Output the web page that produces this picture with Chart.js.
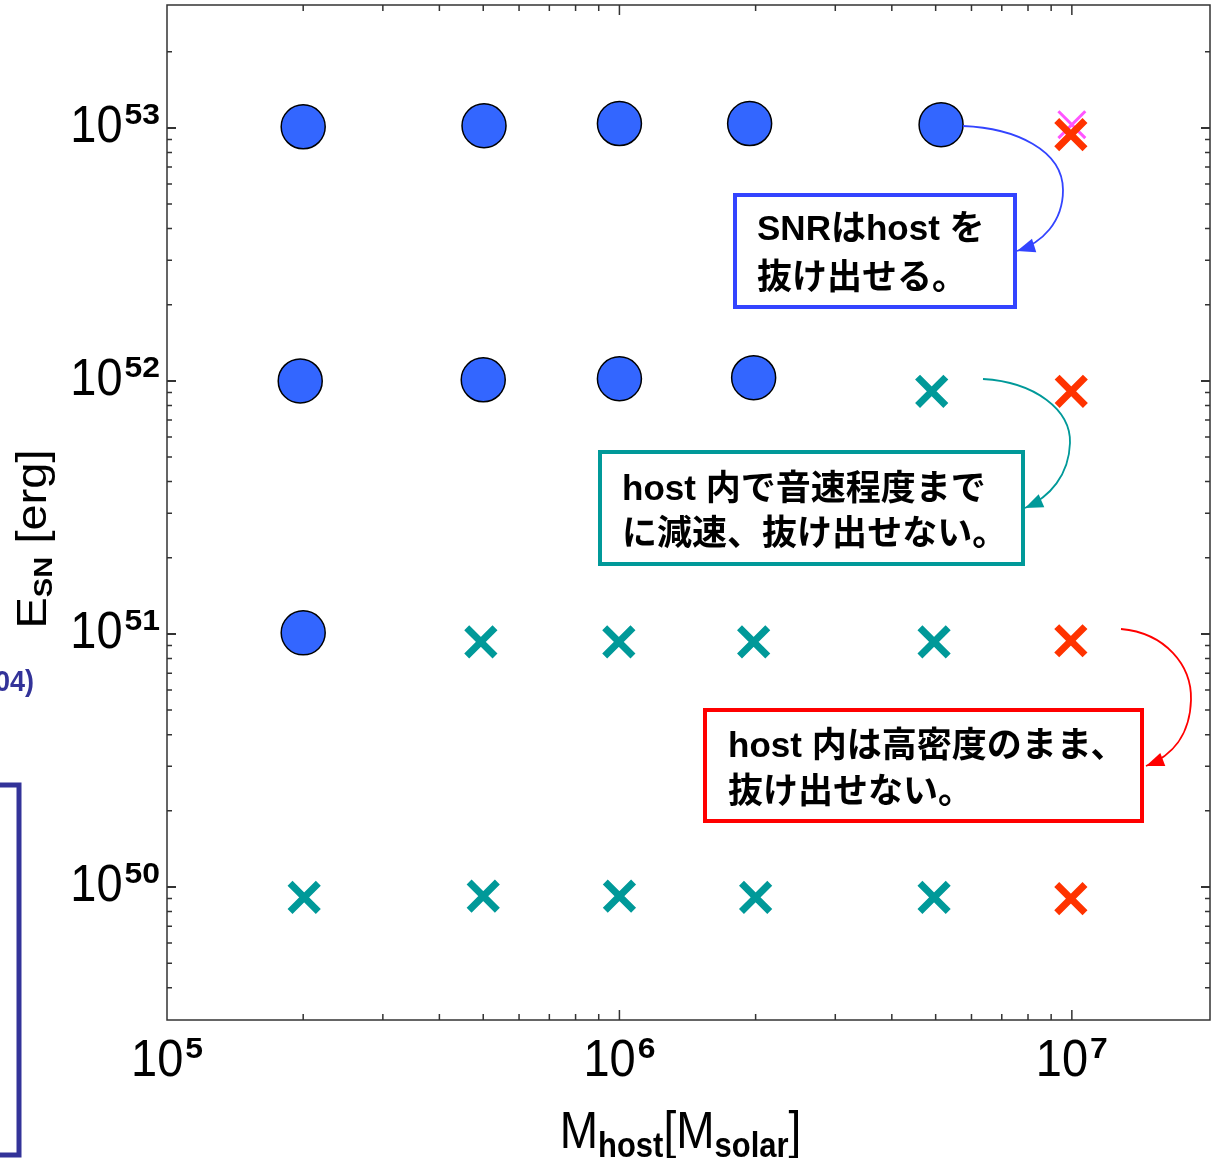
<!DOCTYPE html>
<html>
<head>
<meta charset="utf-8">
<script src="https://cdn.jsdelivr.net/npm/chart.js@4.4.1/dist/chart.umd.min.js"></script>
<style>
  html, body { margin: 0; padding: 0; background: #fff; }
  canvas { display: block; }
</style>
</head>
<body>
<canvas id="chart" width="1215" height="1158"></canvas>
<script>
// SNR escapes the host (blue circles)
const escMass   = [2e5, 5.02e5, 1e6, 1.94e6, 5.14e6, 1.97e5, 5e5, 1e6, 1.98e6, 2e5];
const escEnergy = [1.01e53, 1.02e53, 1.04e53, 1.04e53, 1.03e53, 1e52, 1.01e52, 1.02e52, 1.03e52, 1.01e51];
// slowed to sound speed, cannot escape (teal crosses)
const slowMass   = [4.9e6, 4.94e5, 9.97e5, 1.98e6, 4.96e6, 2.01e5, 5e5, 1e6, 2e6, 4.96e6];
const slowEnergy = [0.91e52, 0.93e51, 0.93e51, 0.93e51, 0.93e51, 0.91e50, 0.92e50, 0.92e50, 0.91e50, 0.91e50];
// stays dense, cannot escape (red crosses)
const denseMass   = [9.95e6, 9.97e6, 9.95e6, 9.95e6];
const denseEnergy = [0.94e53, 0.91e52, 0.94e51, 0.9e50];
// faint magenta marker behind the top red cross
const extraMass   = [1.0e7];
const extraEnergy = [1.03e53];

const xPowers = [5, 6, 7];
const yPowers = [50, 51, 52, 53];

const LATIN = '"Liberation Sans", Arial, sans-serif';
const JP = '"Liberation Sans", "Noto Sans CJK JP", sans-serif';

function pts(xs, ys) {
  return xs.map((v, i) => ({ x: v, y: ys[i] }));
}

function txt(ctx, s, x, y, font, align, sx, sy, color) {
  ctx.save();
  ctx.translate(x, y);
  ctx.scale(sx, sy);
  ctx.font = font;
  ctx.textAlign = align;
  ctx.textBaseline = 'alphabetic';
  ctx.fillStyle = color || '#000';
  ctx.fillText(s, 0, 0);
  ctx.restore();
}

function width(ctx, s, font, sx) {
  ctx.save();
  ctx.font = font;
  const w = ctx.measureText(s).width * sx;
  ctx.restore();
  return w;
}

function arrow(ctx, start, segs, color) {
  ctx.save();
  ctx.strokeStyle = color;
  ctx.fillStyle = color;
  ctx.lineWidth = 1.8;
  ctx.beginPath();
  ctx.moveTo(start[0], start[1]);
  segs.forEach(s => ctx.bezierCurveTo(s[0], s[1], s[2], s[3], s[4], s[5]));
  ctx.stroke();
  const last = segs[segs.length - 1];
  const tx = last[4], ty = last[5];
  let dx = tx - last[2], dy = ty - last[3];
  const len = Math.hypot(dx, dy);
  dx /= len; dy /= len;
  const hl = 18, hw = 7;
  ctx.beginPath();
  ctx.moveTo(tx, ty);
  ctx.lineTo(tx - dx * hl - dy * hw, ty - dy * hl + dx * hw);
  ctx.lineTo(tx - dx * hl + dy * hw, ty - dy * hl - dx * hw);
  ctx.closePath();
  ctx.fill();
  ctx.restore();
}

const frame = {
  id: 'frame',
  beforeDatasetsDraw(chart) {
    const ctx = chart.ctx;
    const a = chart.chartArea;
    const xs = chart.scales.x, ys = chart.scales.y;
    ctx.save();
    ctx.strokeStyle = '#333';
    ctx.lineWidth = 1.5;
    ctx.strokeRect(a.left, a.top, a.right - a.left, a.bottom - a.top);

    // inward ticks on all four sides
    for (let d = 4; d <= 8; d++) {
      for (let m = 1; m <= 9; m++) {
        const v = m * Math.pow(10, d);
        if (v <= xs.min * 1.01 || v >= xs.max * 0.99) continue;
        const px = xs.getPixelForValue(v);
        const L = m === 1 ? 10 : 6;
        ctx.beginPath();
        ctx.moveTo(px, a.bottom); ctx.lineTo(px, a.bottom - L);
        ctx.moveTo(px, a.top); ctx.lineTo(px, a.top + L);
        ctx.stroke();
      }
    }
    for (let d = 48; d <= 54; d++) {
      for (let m = 1; m <= 9; m++) {
        const v = m * Math.pow(10, d);
        if (v <= ys.min * 1.02 || v >= ys.max * 0.98) continue;
        const py = ys.getPixelForValue(v);
        const L = m === 1 ? 9 : 5;
        ctx.lineWidth = m === 1 ? 2 : 1.5;
        ctx.beginPath();
        ctx.moveTo(a.left, py); ctx.lineTo(a.left + L, py);
        ctx.moveTo(a.right, py); ctx.lineTo(a.right - L, py);
        ctx.stroke();
      }
    }
    ctx.restore();
  },
  afterDraw(chart) {
    const ctx = chart.ctx;
    const a = chart.chartArea;
    const xs = chart.scales.x, ys = chart.scales.y;
    const big = '47px ' + LATIN;
    const sup = 'bold 29px ' + LATIN;

    // y tick labels
    yPowers.forEach(p => {
      const py = ys.getPixelForValue(Math.pow(10, p));
      const w2 = width(ctx, String(p), sup, 1.1);
      txt(ctx, String(p), 160, py - 4, sup, 'right', 1.1, 1.0);
      txt(ctx, '10', 160 - w2 - 2, py + 14, big, 'right', 1, 1.12);
    });

    // x tick labels
    xPowers.forEach(p => {
      const px = xs.getPixelForValue(Math.pow(10, p));
      const w1 = width(ctx, '10', big, 1);
      const w2 = width(ctx, String(p), sup, 1.1);
      const left = px - (w1 + 2 + w2) / 2;
      txt(ctx, '10', left, 1076, big, 'left', 1, 1.12);
      txt(ctx, String(p), left + w1 + 2, 1058, sup, 'left', 1.1, 1.0);
    });

    // x title: M_host[M_solar]
    const tf = '46px ' + LATIN, sf = 'bold 31px ' + LATIN;
    const parts = [['M', tf, 0], ['host', sf, 1], ['[M', tf, 0], ['solar', sf, 1], [']', tf, 0]];
    let tot = 0;
    parts.forEach(q => { tot += width(ctx, q[0], q[1], 1); });
    let cx = (a.left + a.right) / 2 - tot / 2 - 8;
    parts.forEach(q => {
      txt(ctx, q[0], cx, q[2] ? 1157 : 1148, q[1], 'left', 1, 1.12);
      cx += width(ctx, q[0], q[1], 1);
    });

    // y title: E_SN [erg], rotated
    ctx.save();
    ctx.translate(46, 539);
    ctx.scale(1, 1.12);
    ctx.rotate(-Math.PI / 2);
    const yf = '42px ' + LATIN, ysf = 'bold 26px ' + LATIN;
    const yparts = [['E', yf, 0], ['SN', ysf, 1], [' [erg]', yf, 0]];
    let ytot = 0;
    yparts.forEach(q => { ctx.font = q[1]; ytot += ctx.measureText(q[0]).width; });
    let yx = -ytot / 2;
    yparts.forEach(q => {
      ctx.font = q[1];
      ctx.fillStyle = '#000';
      ctx.textAlign = 'left';
      ctx.fillText(q[0], yx, q[2] ? 6 : 0);
      yx += ctx.measureText(q[0]).width;
    });
    ctx.restore();

    // clipped slide remnants at the left edge
    txt(ctx, '04)', 34, 691, 'bold 27px ' + LATIN, 'right', 1, 1.12, '#333399');
    ctx.save();
    ctx.strokeStyle = '#333399';
    ctx.lineWidth = 5;
    ctx.strokeRect(-20, 785, 39, 370);
    ctx.restore();

    // annotation boxes
    const jf = 'bold 34px ' + JP;
    const boxes = [
      { r: [735, 195, 280, 112], c: '#3344ff', lines: ['SNRはhost を', '抜け出せる。'], x: 757, y: [240, 289] },
      { r: [600, 452, 423, 112], c: '#009999', lines: ['host 内で音速程度まで', 'に減速、抜け出せない。'], x: 622, y: [500, 545] },
      { r: [705, 710, 437, 111], c: '#ff0000', lines: ['host 内は高密度のまま、', '抜け出せない。'], x: 728, y: [757, 803] }
    ];
    boxes.forEach(b => {
      ctx.save();
      ctx.fillStyle = '#fff';
      ctx.fillRect(b.r[0], b.r[1], b.r[2], b.r[3]);
      ctx.strokeStyle = b.c;
      ctx.lineWidth = 4;
      ctx.strokeRect(b.r[0], b.r[1], b.r[2], b.r[3]);
      ctx.restore();
      b.lines.forEach((s, i) => txt(ctx, s, b.x, b.y[i], jf, 'left', 1.03, 1.05));
    });

    arrow(ctx, [963, 126], [[1015, 128, 1063, 150, 1063, 190], [1063, 222, 1042, 243, 1017, 251]], '#3344ff');
    arrow(ctx, [983, 379], [[1035, 382, 1071, 410, 1070, 443], [1069, 475, 1050, 497, 1025, 508]], '#009999');
    arrow(ctx, [1121, 629], [[1165, 633, 1192, 665, 1191, 700], [1190, 735, 1172, 756, 1146, 766]], '#ff0000');
  }
};

new Chart(document.getElementById('chart'), {
  type: 'scatter',
  data: {
    datasets: [
      {
        label: 'escape',
        data: pts(escMass, escEnergy),
        pointStyle: 'circle',
        pointRadius: 22,
        backgroundColor: '#3366ff',
        borderColor: '#000',
        borderWidth: 1.5,
        order: 1
      },
      {
        label: 'slowed',
        data: pts(slowMass, slowEnergy),
        pointStyle: 'crossRot',
        pointRadius: 20,
        borderColor: '#009999',
        borderWidth: 7,
        order: 2
      },
      {
        label: 'dense',
        data: pts(denseMass, denseEnergy),
        pointStyle: 'crossRot',
        pointRadius: 20,
        borderColor: '#ff3300',
        borderWidth: 7,
        order: 3
      },
      {
        label: 'extra',
        data: pts(extraMass, extraEnergy),
        pointStyle: 'crossRot',
        pointRadius: 19,
        borderColor: '#ff55ff',
        borderWidth: 3,
        order: 4
      }
    ]
  },
  options: {
    responsive: false,
    animation: false,
    layout: { autoPadding: false, padding: { left: 167, top: 5, right: 5, bottom: 138 } },
    scales: {
      x: { type: 'logarithmic', min: 1e5, max: 2.02e7, display: false },
      y: { type: 'logarithmic', min: 2.98e49, max: 3.06e53, display: false }
    },
    plugins: {
      legend: { display: false },
      tooltip: { enabled: false }
    }
  },
  plugins: [frame]
});
</script>
</body>
</html>
